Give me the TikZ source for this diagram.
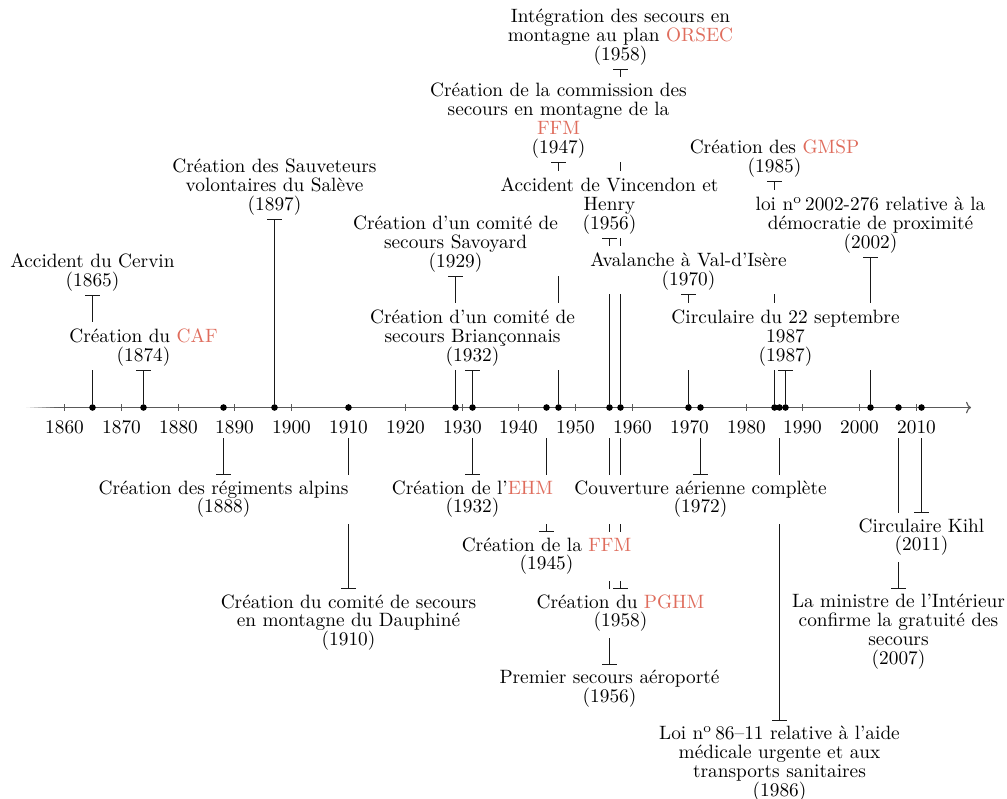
\documentclass[tikz,border=0pt]{standalone}
\usetikzlibrary{arrows.meta}
\definecolor{acrcol}{RGB}{223,108,92}
\definecolor{axiscol}{gray}{0.35}
\newcommand\sigle[1]{\textcolor{acrcol}{#1}}
\pgfdeclarelayer{background}
\pgfdeclarelayer{boxes}
\pgfsetlayers{background,boxes,main}

\begin{document}
\begin{tikzpicture}[x=0.5181pt,y=-0.5181pt,
  every node/.style={font=\fontsize{10}{9.7}\selectfont},
  evt/.style={align=center, inner xsep=0pt, inner ysep=0pt},
  above evt/.style={evt, anchor=south, yshift=1.9pt},
  below evt/.style={evt, anchor=north, yshift=-2.6pt},
  dot/.style={circle, fill=black, inner sep=0pt, minimum size=3.4pt},
  conn/.style={line width=0.65pt, black!90, -{Bar[width=7.4pt]}},
  conn up/.style={conn, shorten >=1.9pt},
  conn down/.style={conn, shorten >=2.6pt},
  axisline/.style={line width=0.6pt, axiscol},
  yearlabel/.style={anchor=base, inner sep=0pt}
]
\useasboundingbox (0,0) rectangle (1007,798);

% time axis, fading in on the left
\coordinate (axL) at (26,407.5);
\coordinate (axF) at (58,407.5);
\coordinate (axR) at (971,407.5);
\foreach \i in {0,...,7}
  \draw[line width=0.6pt, axiscol!\the\numexpr 6+\i*13\relax]
    ({26+4*\i},407.5) -- ({30+4*\i},407.5);
\draw[axisline, -{To[length=2.6pt,width=6pt]}] (axF) -- (axR);

% decade ticks and their years
\foreach \decade in {1860,1870,...,2010} {
  \pgfmathsetmacro\xx{round(64+(\decade-1860)*5.68)+0.5}
  \draw[axisline] (\xx,404) -- (\xx,411);
  \node[yearlabel] (t\decade) at (\xx,433) {\decade};
}

% event dots
\foreach \yr/\xx in {1865/92.5, 1874/143.5, 1888/223.5, 1897/274.5,
  1910/348.5, 1929/455.5, 1932/472.5, 1945/546.5, 1947/558.5,
  1956/609.5, 1958/620.5, 1970/688.5, 1972/700.5, 1985/774.5,
  1986/779.5, 1987/785.5, 2002/870.5, 2007/898.5, 2011/921.5}
  \node[dot] (d\yr) at (\xx,407.5) {};

% start points of the lines below the axis
\foreach \yr/\xx in {1888/223.5, 1910/348.5, 1932/472.5, 1945/546.5,
  1956/609.5, 1958/620.5, 1972/700.5, 1986/779.5, 2007/898.5,
  2011/921.5}
  \coordinate (s\yr) at (\xx,438);

% events above the axis
\node[above evt] (l1865) at (92.5,295) {Accident du Cervin\\(1865)};
\node[above evt] (l1874) at (143.5,370) {Création du \sigle{CAF}\\(1874)};
\node[above evt] (l1897) at (274.5,219) {Création des Sauveteurs\\volontaires du Salève\\(1897)};
\node[above evt] (l1929) at (455.5,276) {Création d’un comité de\\secours Savoyard\\(1929)};
\node[above evt] (l1932a) at (472.5,370) {Création d’un comité de\\secours Briançonnais\\(1932)};
\node[above evt] (l1947) at (558.5,162) {Création de la commission des\\secours en montagne de la\\\sigle{FFM}\\(1947)};
\node[above evt] (l1956a) at (609.5,238) {Accident de Vincendon et\\Henry\\(1956)};
\node[above evt] (l1958a) at (620.5,69) {Intégration des secours en\\montagne au plan \sigle{ORSEC}\\(1958)};
\node[above evt] (l1970) at (688.5,294) {Avalanche à Val-d’Isère\\(1970)};
\node[above evt] (l1985) at (774.5,181) {Création des \sigle{GMSP}\\(1985)};
\node[above evt] (l1987) at (785.5,370) {Circulaire du 22 septembre\\1987\\(1987)};
\node[above evt] (l2002) at (870.5,257) {loi n\textsuperscript{o}\,2002-276 relative à la\\démocratie de proximité\\(2002)};

% events below the axis
\node[below evt] (l1888) at (223.5,475) {Création des régiments alpins\\(1888)};
\node[below evt] (l1910) at (348.5,589) {Création du comité de secours\\en montagne du Dauphiné\\(1910)};
\node[below evt] (l1932b) at (472.5,475) {Création de l’\sigle{EHM}\\(1932)};
\node[below evt] (l1945) at (546.5,532) {Création de la \sigle{FFM}\\(1945)};
\node[below evt] (l1956b) at (609.5,665) {Premier secours aéroporté\\(1956)};
\node[below evt] (l1958b) at (620.5,589) {Création du \sigle{PGHM}\\(1958)};
\node[below evt] (l1972) at (700.5,475) {Couverture aérienne complète\\(1972)};
\node[below evt] (l1986) at (779.5,721) {Loi n\textsuperscript{o}\,86–11 relative à l’aide\\médicale urgente et aux\\transports sanitaires\\(1986)};
\node[below evt] (l2007) at (898.5,589) {La ministre de l’Intérieur\\confirme la gratuité des\\secours\\(2007)};
\node[below evt] (l2011) at (921.5,513) {Circulaire Kihl\\(2011)};

% white boxes behind every label, hiding the lines that pass under it
\begin{pgfonlayer}{boxes}
  \foreach \n in {l1865,l1874,l1897,l1929,l1932a,l1947,l1956a,l1958a,
                  l1970,l1985,l1987,l2002}
    \fill[white] ([xshift=-3.3pt,yshift=-1.9pt]\n.south west)
                 rectangle ([xshift=3.3pt,yshift=3.3pt]\n.north east);
  \foreach \n in {l1888,l1910,l1932b,l1945,l1956b,l1958b,l1972,l1986,
                  l2007,l2011}
    \fill[white] ([xshift=-3.3pt,yshift=-3.3pt]\n.south west)
                 rectangle ([xshift=3.3pt,yshift=2.6pt]\n.north east);
\end{pgfonlayer}

% connectors, kept behind the white label boxes
\begin{pgfonlayer}{background}
  \draw[conn up] (d1865) -- (l1865);
  \draw[conn up] (d1874) -- (l1874);
  \draw[conn up] (d1897) -- (l1897);
  \draw[conn up] (d1929) -- (l1929);
  \draw[conn up] (d1932) -- (l1932a);
  \draw[conn up] (d1947) -- (l1947);
  \draw[conn up] (d1956) -- (l1956a);
  \draw[conn up] (d1958) -- (l1958a);
  \draw[conn up] (d1970) -- (l1970);
  \draw[conn up] (d1985) -- (l1985);
  \draw[conn up] (d1987) -- (l1987);
  \draw[conn up] (d2002) -- (l2002);
  \draw[conn down] (s1888) -- (l1888);
  \draw[conn down] (s1910) -- (l1910);
  \draw[conn down] (s1932) -- (l1932b);
  \draw[conn down] (s1945) -- (l1945);
  \draw[conn down] (s1956) -- (l1956b);
  \draw[conn down] (s1958) -- (l1958b);
  \draw[conn down] (s1972) -- (l1972);
  \draw[conn down] (s1986) -- (l1986);
  \draw[conn down] (s2007) -- (l2007);
  \draw[conn down] (s2011) -- (l2011);
\end{pgfonlayer}
\end{tikzpicture}
\end{document}
